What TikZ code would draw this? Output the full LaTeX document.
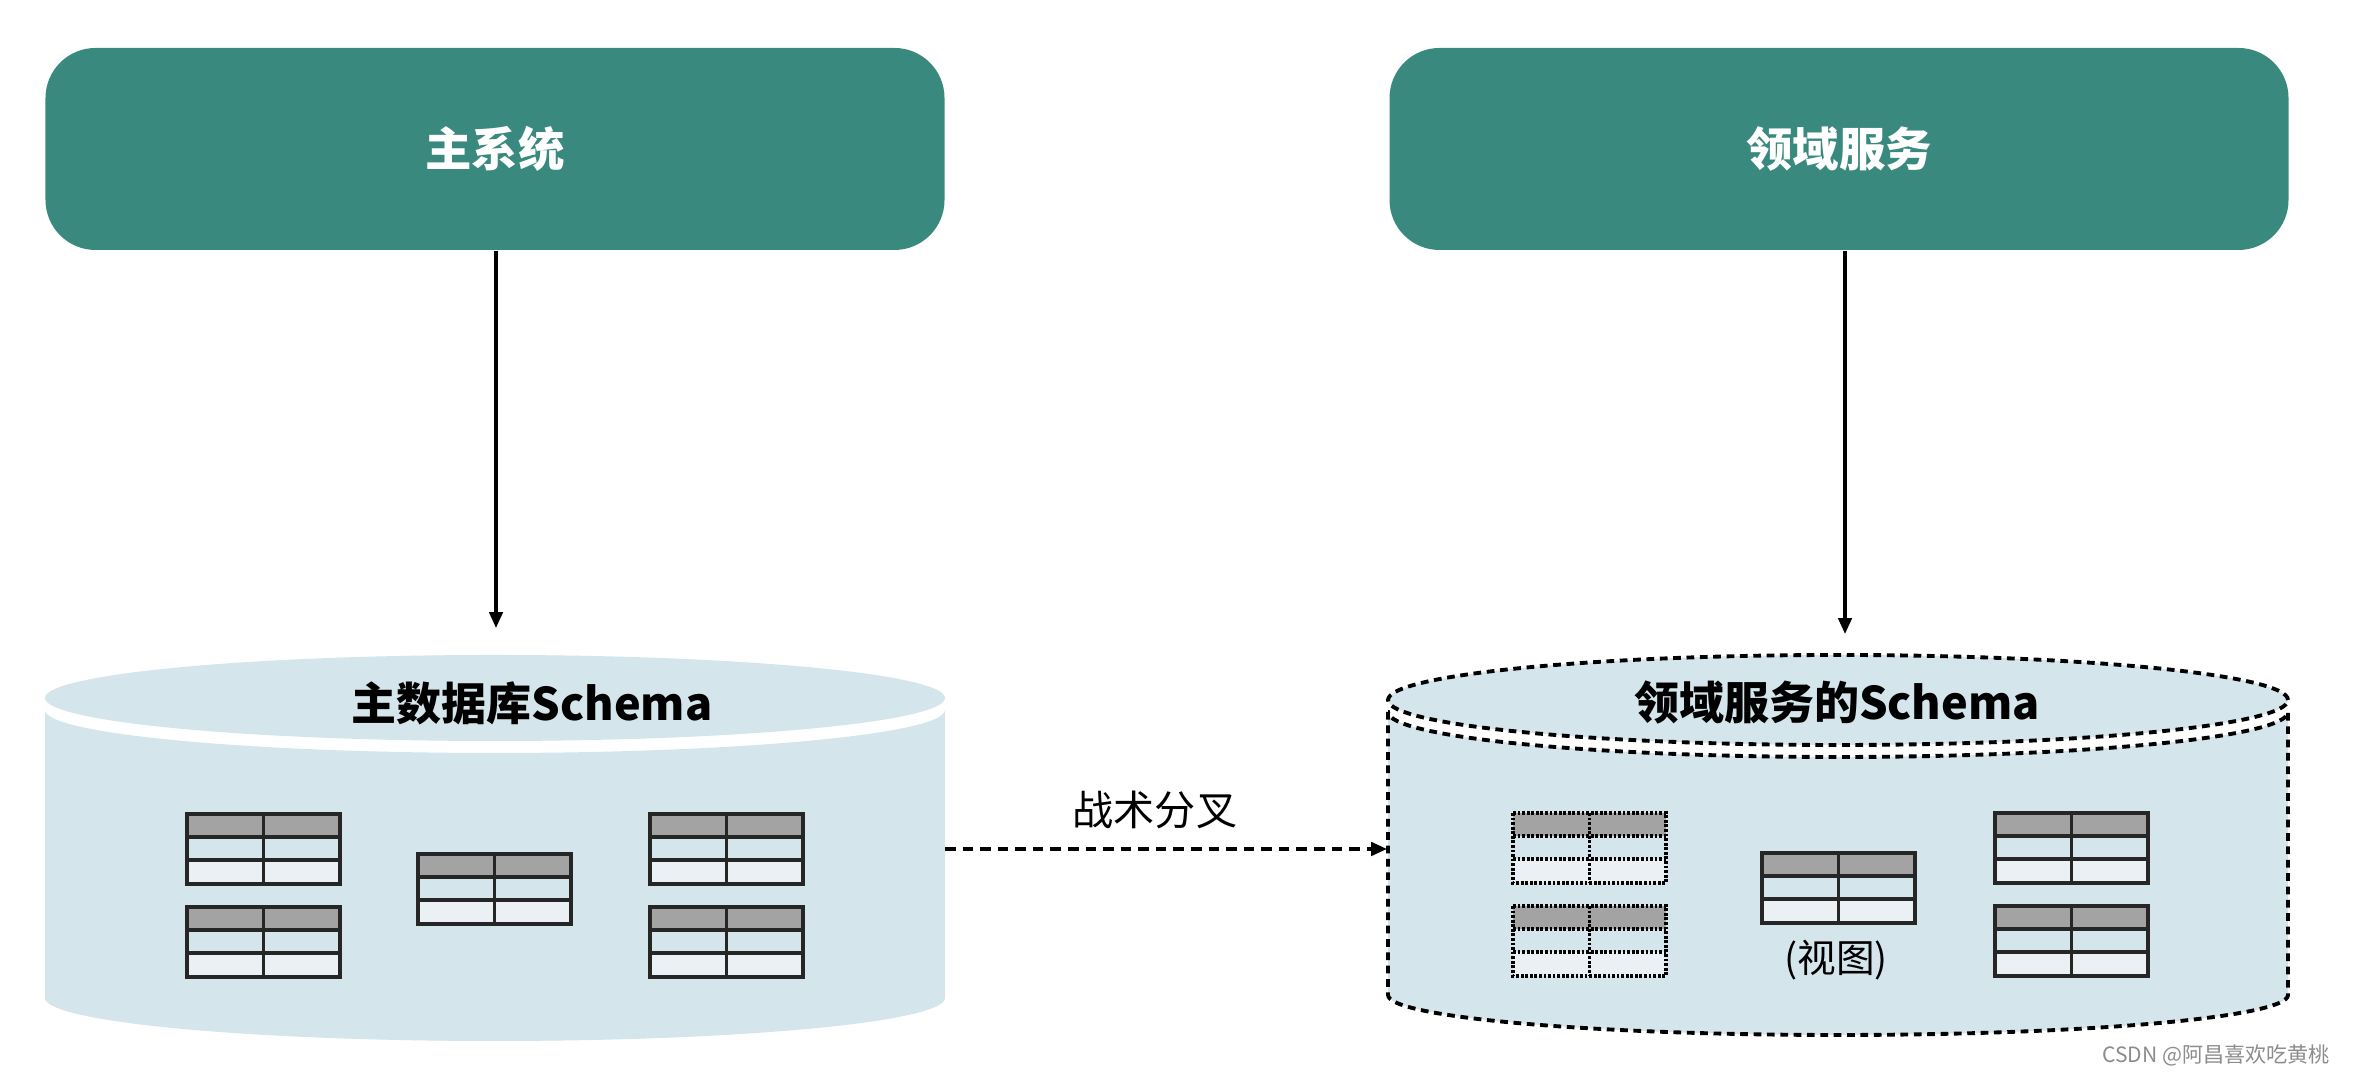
\documentclass[tikz,border=0pt]{standalone}
\usepackage{fontspec}
\setmainfont{Noto Sans CJK SC}
\usetikzlibrary{arrows.meta}

\definecolor{boxteal}{RGB}{58,137,126}
\definecolor{dbblue}{RGB}{212,229,235}
\definecolor{headgray}{RGB}{163,163,163}
\definecolor{rowlight}{RGB}{234,240,243}

\tikzset{
  sysbox/.style={fill=boxteal, rounded corners=0.5cm, minimum width=8.99cm, minimum height=2.02cm,
    inner sep=0pt, text=white, font=\fontsize{13.2}{16}\selectfont\bfseries},
  dbtitle/.style={font=\fontsize{12.8}{15}\selectfont\bfseries},
  arr/.style={-{Triangle[length=4.5pt,width=3.8pt]}, line width=0.9pt},
  dbline/.style={line width=1.1pt, dash pattern=on 2.2pt off 1.6pt},
  tabline/.style={draw=black!85, line width=0.9pt},
  tabdot/.style={draw=black, line width=0.9pt, dash pattern=on 0.8pt off 0.5pt},
}

% one table: style, top left corner
\newcommand{\dbtable}[2][tabline]{%
  \begin{scope}[shift={(#2)}]
    \fill[headgray] (0,0) rectangle (1.53,-0.23);
    \fill[dbblue] (0,-0.23) rectangle (1.53,-0.46);
    \fill[rowlight] (0,-0.46) rectangle (1.53,-0.70);
    \draw[#1] (0,0) rectangle (1.53,-0.70);
    \draw[#1] (0,-0.23) -- (1.53,-0.23) (0,-0.46) -- (1.53,-0.46) (0.765,0) -- (0.765,-0.70);
  \end{scope}}

\begin{document}
\begin{tikzpicture}
\useasboundingbox (0,0) rectangle (23.56,10.75);

\node[sysbox] (main) at (4.95,9.26) {主系统};
\node[sysbox] (domain) at (18.39,9.26) {领域服务};

% main database
\fill[dbblue] (0.45,3.65) -- (0.45,0.77) arc[start angle=180,end angle=360,x radius=4.5,y radius=0.43]
  -- (9.45,3.65) arc[start angle=0,end angle=-180,x radius=4.5,y radius=0.43] -- cycle;
\fill[dbblue] (4.95,3.77) ellipse [x radius=4.5,y radius=0.43];
\node[dbtitle] (maindb) at (5.32,3.72) {主数据库Schema};

% domain database
\filldraw[fill=dbblue, dbline] (13.88,3.63) -- (13.88,0.80) arc[start angle=180,end angle=360,x radius=4.5,y radius=0.40]
  -- (22.88,3.63) arc[start angle=0,end angle=-180,x radius=4.5,y radius=0.45] -- cycle;
\filldraw[fill=dbblue, dbline] (18.38,3.75) ellipse [x radius=4.5,y radius=0.45];
\node[dbtitle] (domdb) at (18.37,3.72) {领域服务的Schema};

\foreach \p in {{1.87,2.61},{1.87,1.68},{4.18,2.21},{6.50,2.61},{6.50,1.68},{17.62,2.22},{19.95,2.62},{19.95,1.69}}
  \dbtable{\p};
\dbtable[tabdot]{15.13,2.62}
\dbtable[tabdot]{15.13,1.69}
\node[font=\fontsize{11}{13}\selectfont] (view) at (18.36,1.15) {(视图)};

\coordinate (maindb-n) at (4.96,4.47);
\coordinate (domdb-n) at (18.45,4.41);
\coordinate (maindb-e) at (9.45,2.26);
\coordinate (domdb-w) at (13.87,2.26);

\draw[arr] (main.south -| maindb-n) -- (maindb-n);
\draw[arr] (domain.south -| domdb-n) -- (domdb-n);
\draw[arr, line width=1pt, dash pattern=on 3pt off 2pt] (maindb-e) -- node[pos=0.475, yshift=0.39cm, font=\fontsize{11.7}{14}\selectfont] (fork) {战术分叉} (domdb-w);

\node[anchor=east, text=black!45, font=\fontsize{6}{8}\selectfont] (csdn) at (23.42,0.20) {CSDN @阿昌喜欢吃黄桃};

\end{tikzpicture}
\end{document}
